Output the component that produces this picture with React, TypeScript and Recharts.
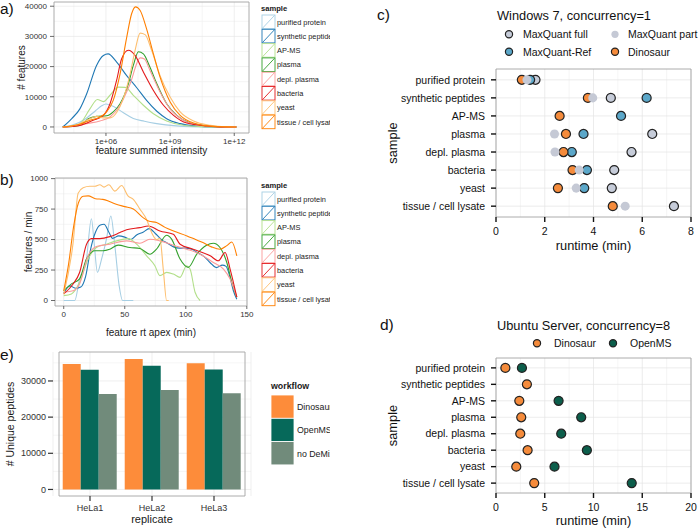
import React from "react";
import {
  LineChart,
  Line,
  XAxis,
  YAxis,
  CartesianGrid,
  ReferenceArea,
  ScatterChart,
  Scatter,
  ZAxis,
  BarChart,
  Bar,
} from "recharts";

const FONT = "'Liberation Sans', Arial, Helvetica, sans-serif";

// shared sample names / colours (panels a, b, c, d)
const samples = [
  "purified protein",
  "synthetic peptides",
  "AP-MS",
  "plasma",
  "depl. plasma",
  "bacteria",
  "yeast",
  "tissue / cell lysate",
];
const sampleColors = ["#a6cee3", "#1f78b4", "#b2df8a", "#33a02c", "#fb9a99", "#e31a1c", "#fdbf6f", "#ff7f00"];

// a) # features vs log10(feature summed intensity)
const intPurified = [[3.98, 0], [4.5, 800], [5, 2500], [5.5, 5300], [5.8, 7000], [6.0, 7600], [6.4, 6600], [6.8, 4800], [7.28, 2800], [7.8, 1900], [8.3, 1200], [8.8, 700], [9.3, 350], [10, 100], [11, 0], [12.1, 0]];
const intSynthetic = [[3.98, 0], [4.4, 2800], [4.78, 6000], [5.1, 11000], [5.56, 20400], [5.88, 23700], [6.1, 24200], [6.5, 21500], [6.97, 17000], [7.44, 13000], [7.9, 8800], [8.38, 5200], [8.84, 2750], [9.47, 1100], [10.2, 300], [11, 0], [12.1, 0]];
const intApms = [[3.98, 0], [4.4, 300], [4.78, 1100], [5.25, 6000], [5.6, 9100], [5.88, 8400], [6.19, 10500], [6.58, 13200], [6.9, 13100], [7.28, 10500], [7.75, 7200], [8.22, 4400], [8.84, 2000], [9.63, 550], [10.5, 100], [11.2, 0], [12.1, 0]];
const intPlasma = [[3.98, 0], [4.78, 500], [5.17, 2700], [5.56, 3500], [6.03, 3700], [6.34, 5000], [6.66, 7700], [7.05, 14300], [7.28, 20400], [7.52, 24900], [7.75, 24200], [8.06, 19800], [8.38, 14300], [8.84, 7700], [9.31, 3850], [9.94, 1300], [10.72, 400], [11.5, 50], [12.1, 0]];
const intDepl = [[3.98, 0], [4.6, 400], [5.09, 1100], [5.72, 2000], [6.19, 3300], [6.66, 7200], [7.13, 14300], [7.6, 22900], [7.8, 22500], [8.06, 18700], [8.53, 11600], [9.0, 6000], [9.63, 2200], [10.4, 550], [11.2, 50], [12.1, 0]];
const intBacteria = [[3.98, 0], [4.78, 500], [5.4, 2200], [5.88, 3850], [6.19, 7700], [6.5, 15500], [6.73, 22500], [7.05, 25400], [7.36, 23700], [7.75, 18200], [8.22, 12100], [8.69, 7200], [9.16, 3850], [9.78, 1300], [10.72, 330], [11.5, 0], [12.1, 0]];
const intYeast = [[3.98, 0], [4.78, 1100], [5.25, 2750], [5.56, 3500], [5.88, 3000], [6.19, 3000], [6.5, 4800], [6.81, 9400], [7.13, 17600], [7.36, 25300], [7.6, 31100], [7.83, 30600], [8.14, 25300], [8.53, 17000], [9.0, 9900], [9.47, 5000], [10.1, 2000], [10.88, 550], [11.6, 50], [12.1, 0]];
const intTissue = [[3.98, 0], [4.78, 900], [5.25, 2200], [5.72, 3300], [6.03, 5000], [6.34, 8800], [6.66, 17600], [6.97, 29700], [7.2, 37500], [7.38, 39800], [7.6, 38600], [7.9, 32500], [8.22, 24200], [8.53, 16500], [9.0, 8300], [9.47, 3850], [10.1, 1300], [11.03, 200], [12.1, 0]];
const intensitySeries = [intPurified, intSynthetic, intApms, intPlasma, intDepl, intBacteria, intYeast, intTissue];
const intensityTicks = [6, 9, 12];
const intensityMinor = [4.5, 7.5, 10.5];
const featureTicks = [0, 10000, 20000, 30000, 40000];
const featureMinor = [5000, 15000, 25000, 35000];

// b) features / min vs retention time apex (min)
const rtPurified = [[0, 0], [9, 0], [13, 177], [18.6, 340], [22.7, 671], [24.9, 475], [27.6, 231], [31, 340], [35, 503], [38.6, 693], [41.9, 448], [45.4, 122], [48.2, 0], [57, 0]];
const rtSynthetic = [[0, 60], [5, 120], [10, 100], [14, 110], [18, 200], [22, 420], [26, 560], [30, 620], [33, 625], [37, 560], [40, 510], [45, 530], [50, 520], [55, 500], [60, 540], [65, 560], [70, 590], [75, 550], [80, 500], [85, 470], [90, 440], [95, 430], [100, 430], [105, 420], [110, 390], [115, 360], [120, 310], [125, 270], [130, 290], [133, 280], [136, 200], [139, 80], [141.8, 10]];
const rtApms = [[0, 40], [6.3, 54], [13, 150], [20, 340], [26.8, 435], [35, 462], [43.3, 489], [52.8, 508], [59.7, 462], [67.9, 367], [74.7, 285], [78.8, 204], [84.3, 231], [89.8, 217], [95.3, 190], [100.7, 285], [103.5, 258], [107.6, 68], [111.7, 0]];
const rtPlasma = [[0, 80], [6.3, 136], [13, 177], [18.6, 340], [25.5, 408], [32.3, 408], [37.8, 421], [44.6, 454], [54.2, 435], [62.4, 427], [70.6, 380], [76, 421], [84.3, 535], [88.4, 503], [95.3, 340], [102, 272], [109, 380], [117, 454], [122.6, 470], [128, 435], [133.6, 312], [137.7, 150], [141.8, 27]];
const rtDepl = [[0, 68], [7.7, 80], [13, 136], [20, 367], [26.8, 443], [37.8, 462], [51.5, 489], [62.4, 470], [70.6, 503], [78.8, 489], [89.8, 454], [100.7, 421], [111.7, 380], [122.6, 312], [130.9, 258], [136.3, 177], [141.8, 27]];
const rtBacteria = [[0, 54], [7.7, 136], [13, 230], [18.6, 460], [22.7, 508], [29.6, 508], [37.8, 524], [46, 557], [51.5, 580], [62.4, 598], [69.3, 611], [78.8, 570], [89.8, 543], [95.3, 462], [106, 421], [120, 367], [126.7, 326], [132.2, 394], [136.3, 258], [141.8, 27]];
const rtYeast = [[0, 50], [7.7, 475], [11.8, 880], [15.9, 925], [21.4, 937], [25.5, 937], [29.6, 950], [33, 930], [37, 950], [41.9, 897], [47.4, 943], [52.8, 856], [57, 830], [62.4, 750], [67.9, 665], [72, 557], [76, 500], [78.8, 510], [81.6, 250], [84.3, 0], [86, 0]];
const rtTissue = [[0, 80], [4, 300], [8, 600], [12, 800], [16, 855], [20, 858], [26, 835], [32, 830], [38, 810], [43, 790], [50, 770], [57, 750], [65, 680], [70, 650], [76, 640], [83, 600], [90, 570], [101, 530], [108, 500], [114, 475], [121, 440], [128, 420], [133.6, 450], [137.7, 480], [141.8, 367]];
const rtSeries = [rtPurified, rtSynthetic, rtApms, rtPlasma, rtDepl, rtBacteria, rtYeast, rtTissue];
const rtTicks = [0, 50, 100, 150];
const rtMinor = [25, 75, 125];
const rateTicks = [0, 250, 500, 750, 1000];
const rateMinor = [125, 375, 625, 875];

// c) runtime (min), Windows 7, concurrency = 1 (order follows `samples`)
const winMaxQuantFull = [1.62, 4.71, null, 6.41, 5.56, 4.85, 4.75, 7.3];
const winMaxQuantRef = [1.4, 6.18, 5.13, 3.59, 3.11, 3.73, 3.62, null];
const winDinosaur = [1.06, 3.77, 2.61, 2.87, 2.77, 3.14, 2.54, 4.79];
const winMaxQuantPart = [1.27, 3.97, null, 2.4, 2.42, 3.41, 3.29, 5.3];
const winTicks = [0, 2, 4, 6, 8];
const winMinor = [1, 3, 5, 7];

// d) runtime (min), Ubuntu Server, concurrency = 8
const ubuDinosaur = [0.96, 3.17, 2.39, 2.59, 2.49, 3.24, 2.08, 3.92];
const ubuOpenMS = [2.66, null, 6.42, 8.74, 6.69, 9.32, 6.0, 13.92];
const ubuTicks = [0, 5, 10, 15, 20];
const ubuMinor = [2.5, 7.5, 12.5, 17.5];

// e) unique peptides per replicate
const replicates = ["HeLa1", "HeLa2", "HeLa3"];
const dinosaurDemix = [34700, 36100, 34900];
const openmsDemix = [33100, 34200, 33200];
const noDemix = [26400, 27500, 26600];
const peptideTicks = [0, 10000, 20000, 30000];
const peptideMinor = [5000, 15000, 25000, 35000];

const sampleIdx = samples.map((_, i) => i);
const toXY = (pts: number[][]) => pts.map(([x, y]) => ({ x, y }));
const toRows = (vals: (number | null)[]) =>
  vals.map((v, i) => (v == null ? null : { x: v, y: i })).filter(Boolean) as { x: number; y: number }[];
const peptideRows = replicates.map((r, i) => ({
  replicate: r,
  dino: dinosaurDemix[i],
  openms: openmsDemix[i],
  none: noDemix[i],
}));

const ORANGE = "#f58b3b";
const GRID_MAJOR = "#e4e4e4";
const GRID_MINOR = "#f3f3f3";
const BORDER = "#a3a3a3";

function SampleLegend({ top }: { top: number }) {
  return (
    <svg width={72} height={140} style={{ position: "absolute", left: 258, top }}>
      <text x={3} y={11} fontSize={7.6} fontWeight="bold" fill="#1a1a1a">sample</text>
      {samples.map((s, i) => {
        const y0 = 15 + i * 14.3;
        return (
          <g key={s}>
            <rect x={4} y={y0} width={13} height={13.6} fill="#fff" stroke={sampleColors[i]} strokeWidth={0.9} />
            <line x1={4.5} y1={y0 + 13.2} x2={16.5} y2={y0 + 0.4} stroke={sampleColors[i]} strokeWidth={0.9} />
            <text x={19} y={y0 + 9.5} fontSize={7.4} fill="#1a1a1a">{s}</text>
          </g>
        );
      })}
    </svg>
  );
}

const smallTick = { fontSize: 8, fill: "#333" };

function PanelA() {
  return (
    <div style={{ position: "absolute", left: 0, top: 0, width: 330, height: 160, overflow: "hidden" }}>
      <LineChart width={330} height={160} margin={{ top: 2, right: 81, bottom: 0, left: 14 }}>
        <CartesianGrid stroke={GRID_MINOR} strokeWidth={0.8} horizontalValues={featureMinor} verticalValues={intensityMinor} />
        <CartesianGrid stroke={GRID_MAJOR} strokeWidth={0.6} horizontalValues={featureTicks} verticalValues={intensityTicks} />
        <XAxis
          type="number"
          dataKey="x"
          domain={[3.57, 12.69]}
          ticks={intensityTicks}
          interval={0}
          allowDataOverflow
          tickFormatter={(v: number) => "1e+" + String(v).padStart(2, "0")}
          height={27}
          axisLine={false}
          tickSize={3}
          tickMargin={2}
          tickLine={{ stroke: "#444", strokeWidth: 0.8 }}
          tick={smallTick}
          label={{ value: "feature summed intensity", position: "insideBottom", offset: 6, fontSize: 10, fill: "#1a1a1a" }}
        />
        <YAxis
          type="number"
          domain={[-2000, 41400]}
          ticks={featureTicks}
          interval={0}
          allowDataOverflow
          width={40}
          axisLine={false}
          tickSize={4}
          tickMargin={3}
          tickLine={{ stroke: "#444", strokeWidth: 0.8 }}
          tick={smallTick}
          label={{ value: "# features", angle: -90, position: "insideLeft", offset: 7, fontSize: 10, fill: "#1a1a1a", style: { textAnchor: "middle" } }}
        />
        {intensitySeries.map((pts, i) => (
          <Line
            key={samples[i]}
            data={toXY(pts)}
            dataKey="y"
            type="monotone"
            stroke={sampleColors[i]}
            strokeWidth={1.1}
            dot={false}
            isAnimationActive={false}
          />
        ))}
        <ReferenceArea y1={-2000} y2={41400} fill="none" stroke={BORDER} strokeWidth={0.9} ifOverflow="visible" />
      </LineChart>
      <SampleLegend top={0} />
    </div>
  );
}

function PanelB() {
  return (
    <div style={{ position: "absolute", left: 0, top: 160, width: 330, height: 182, overflow: "hidden" }}>
      <LineChart width={330} height={182} margin={{ top: 18, right: 83, bottom: 0, left: 15 }}>
        <CartesianGrid stroke={GRID_MINOR} strokeWidth={0.8} horizontalValues={rateMinor} verticalValues={rtMinor} />
        <CartesianGrid stroke={GRID_MAJOR} strokeWidth={0.6} horizontalValues={rateTicks} verticalValues={rtTicks} />
        <XAxis
          type="number"
          dataKey="x"
          domain={[-7.15, 150.15]}
          ticks={rtTicks}
          interval={0}
          allowDataOverflow
          height={36}
          axisLine={false}
          tickSize={3}
          tickMargin={2}
          tickLine={{ stroke: "#444", strokeWidth: 0.8 }}
          tick={smallTick}
          label={{ value: "feature rt apex (min)", position: "insideBottom", offset: 6, fontSize: 10, fill: "#1a1a1a" }}
        />
        <YAxis
          type="number"
          domain={[-45, 1005]}
          ticks={rateTicks}
          interval={0}
          allowDataOverflow
          width={40}
          axisLine={false}
          tickSize={4}
          tickMargin={3}
          tickLine={{ stroke: "#444", strokeWidth: 0.8 }}
          tick={smallTick}
          label={{ value: "features / min", angle: -90, position: "insideLeft", offset: 13, fontSize: 10, fill: "#1a1a1a", style: { textAnchor: "middle" } }}
        />
        {rtSeries.map((pts, i) => (
          <Line
            key={samples[i]}
            data={toXY(pts)}
            dataKey="y"
            type="monotone"
            stroke={sampleColors[i]}
            strokeWidth={1.1}
            dot={false}
            isAnimationActive={false}
          />
        ))}
        <ReferenceArea y1={-45} y2={1005} fill="none" stroke={BORDER} strokeWidth={0.9} ifOverflow="visible" />
      </LineChart>
      <SampleLegend top={17} />
    </div>
  );
}

const bigTick = { fontSize: 10.5, fill: "#111" };
const blackTick = { stroke: "#111", strokeWidth: 1.4 };

function RuntimeAxes({ domain, ticks }: { domain: number[]; ticks: number[] }) {
  return null;
}

function PanelC() {
  return (
    <div style={{ position: "absolute", left: 330, top: 0, width: 368, height: 260 }}>
      <ScatterChart width={368} height={260} margin={{ top: 69, right: 7, bottom: 0, left: 0 }}>
        <CartesianGrid stroke={GRID_MINOR} strokeWidth={0.8} horizontal={false} verticalValues={winMinor} />
        <CartesianGrid stroke={GRID_MAJOR} strokeWidth={0.7} horizontalValues={sampleIdx} verticalValues={winTicks} />
        <XAxis
          type="number"
          dataKey="x"
          domain={[0, 8]}
          ticks={winTicks}
          interval={0}
          allowDataOverflow
          height={43}
          axisLine={false}
          tickSize={5}
          tickMargin={6}
          tickLine={blackTick}
          tick={bigTick}
          label={{ value: "runtime (min)", position: "insideBottom", offset: 10, fontSize: 12.8, fill: "#111" }}
        />
        <YAxis
          type="number"
          dataKey="y"
          domain={[-0.6, 7.6]}
          reversed
          ticks={sampleIdx}
          interval={0}
          tickFormatter={(v: number) => samples[v]}
          width={166}
          axisLine={false}
          tickSize={5}
          tickMargin={6}
          tickLine={blackTick}
          tick={bigTick}
          label={{ value: "sample", angle: -90, position: "insideLeft", offset: 62, fontSize: 12.8, fill: "#111", style: { textAnchor: "middle" } }}
        />
        <ZAxis range={[40, 40]} />
        <Scatter data={toRows(winMaxQuantFull)} fill="#c6ccd9" stroke="#222" strokeWidth={1.2} isAnimationActive={false} />
        <Scatter data={toRows(winMaxQuantRef)} fill="#5ba7c9" stroke="#222" strokeWidth={1.2} isAnimationActive={false} />
        <Scatter data={toRows(winDinosaur)} fill={ORANGE} stroke="#222" strokeWidth={1.2} isAnimationActive={false} />
        <Scatter data={toRows(winMaxQuantPart)} fill="#c5c9d5" isAnimationActive={false} />
        <ReferenceArea y1={-0.6} y2={7.6} fill="none" stroke={BORDER} strokeWidth={0.9} ifOverflow="visible" />
      </ScatterChart>
    </div>
  );
}

function PanelD() {
  return (
    <div style={{ position: "absolute", left: 330, top: 300, width: 368, height: 230 }}>
      <ScatterChart width={368} height={230} margin={{ top: 58, right: 7, bottom: 0, left: 0 }}>
        <CartesianGrid stroke={GRID_MINOR} strokeWidth={0.8} horizontal={false} verticalValues={ubuMinor} />
        <CartesianGrid stroke={GRID_MAJOR} strokeWidth={0.7} horizontalValues={sampleIdx} verticalValues={ubuTicks} />
        <XAxis
          type="number"
          dataKey="x"
          domain={[0, 20]}
          ticks={ubuTicks}
          interval={0}
          allowDataOverflow
          height={37}
          axisLine={false}
          tickSize={5}
          tickMargin={6}
          tickLine={blackTick}
          tick={bigTick}
          label={{ value: "runtime (min)", position: "insideBottom", offset: 5, fontSize: 12.8, fill: "#111" }}
        />
        <YAxis
          type="number"
          dataKey="y"
          domain={[-0.6, 7.6]}
          reversed
          ticks={sampleIdx}
          interval={0}
          tickFormatter={(v: number) => samples[v]}
          width={166}
          axisLine={false}
          tickSize={5}
          tickMargin={6}
          tickLine={blackTick}
          tick={bigTick}
          label={{ value: "sample", angle: -90, position: "insideLeft", offset: 62, fontSize: 12.8, fill: "#111", style: { textAnchor: "middle" } }}
        />
        <ZAxis range={[40, 40]} />
        <Scatter data={toRows(ubuDinosaur)} fill={ORANGE} stroke="#222" strokeWidth={1.2} isAnimationActive={false} />
        <Scatter data={toRows(ubuOpenMS)} fill="#0c5e4b" stroke="#222" strokeWidth={1.2} isAnimationActive={false} />
        <ReferenceArea y1={-0.6} y2={7.6} fill="none" stroke={BORDER} strokeWidth={0.9} ifOverflow="visible" />
      </ScatterChart>
    </div>
  );
}

const workflowNames = ["Dinosaur DeMix", "OpenMS DeMix", "no DeMix"];
const workflowColors = ["#fd8c3a", "#06695a", "#718b7b"];

function PanelE() {
  return (
    <div style={{ position: "absolute", left: 0, top: 320, width: 330, height: 210, overflow: "hidden" }}>
      <BarChart
        width={330}
        height={210}
        data={peptideRows}
        margin={{ top: 32, right: 79, bottom: 0, left: 0 }}
        barGap={0}
        barCategoryGap="6%"
      >
        <CartesianGrid stroke={GRID_MINOR} strokeWidth={0.8} vertical={false} horizontalValues={peptideMinor} />
        <CartesianGrid stroke={GRID_MAJOR} strokeWidth={0.6} horizontalValues={peptideTicks} />
        <XAxis
          dataKey="replicate"
          padding={{ left: 6, right: 6 }}
          height={34}
          axisLine={false}
          tickSize={5}
          tickMargin={4}
          tickLine={{ stroke: "#333", strokeWidth: 1.2 }}
          tick={{ fontSize: 9, fill: "#333" }}
          label={{ value: "replicate", position: "insideBottom", offset: 7, fontSize: 11, fill: "#1a1a1a" }}
        />
        <YAxis
          type="number"
          domain={[-1810, 38010]}
          ticks={peptideTicks}
          interval={0}
          allowDataOverflow
          width={53}
          axisLine={false}
          tickSize={5}
          tickMargin={2}
          tickLine={{ stroke: "#333", strokeWidth: 1.2 }}
          tick={{ fontSize: 9, fill: "#333" }}
          label={{ value: "# Unique peptides", angle: -90, position: "insideLeft", offset: 10, fontSize: 10.5, fill: "#1a1a1a", style: { textAnchor: "middle" } }}
        />
        <Bar dataKey="dino" fill={workflowColors[0]} isAnimationActive={false} />
        <Bar dataKey="openms" fill={workflowColors[1]} isAnimationActive={false} />
        <Bar dataKey="none" fill={workflowColors[2]} isAnimationActive={false} />
        <ReferenceArea y1={-1810} y2={38010} fill="none" stroke={BORDER} strokeWidth={0.9} ifOverflow="visible" />
      </BarChart>
      <svg width={62} height={100} style={{ position: "absolute", left: 268, top: 60 }}>
        <text x={3} y={9} fontSize={8.8} fontWeight="bold" fill="#1a1a1a">workflow</text>
        {workflowNames.map((w, i) => (
          <g key={w}>
            <rect x={3} y={15 + i * 23.3} width={23} height={23.3} fill={workflowColors[i]} stroke="#fff" strokeWidth={0.8} />
            <text x={29} y={15 + i * 23.3 + 15} fontSize={8.8} fill="#1a1a1a">{w}</text>
          </g>
        ))}
      </svg>
    </div>
  );
}

function Overlay() {
  const dot = (cx: number, cy: number, fill: string, stroke?: string) => (
    <circle cx={cx} cy={cy} r={3.6} fill={fill} stroke={stroke || "none"} strokeWidth={1.2} />
  );
  return (
    <svg width={698} height={530} style={{ position: "absolute", left: 0, top: 0, pointerEvents: "none" }}>
      <text x={0} y={14} fontSize={15.5} fill="#111">a)</text>
      <text x={0} y={185} fontSize={15.5} fill="#111">b)</text>
      <text x={377} y={20} fontSize={15.5} fill="#111">c)</text>
      <text x={380} y={330} fontSize={15.5} fill="#111">d)</text>
      <text x={0} y={360} fontSize={15.5} fill="#111">e)</text>

      <text x={497} y={20} fontSize={12.8} fill="#111">Windows 7, concurrency=1</text>
      {dot(509, 34.3, "#c6ccd9", "#222")}
      <text x={523} y={38} fontSize={10.5} fill="#111">MaxQuant full</text>
      {dot(615, 34.3, "#c5c9d5")}
      <text x={628} y={38} fontSize={10.5} fill="#111">MaxQuant part</text>
      {dot(509, 51.7, "#5ba7c9", "#222")}
      <text x={523} y={55.5} fontSize={10.5} fill="#111">MaxQuant-Ref</text>
      {dot(615, 51.7, ORANGE, "#222")}
      <text x={628} y={55.5} fontSize={10.5} fill="#111">Dinosaur</text>

      <text x={497} y={330} fontSize={12.8} fill="#111">Ubuntu Server, concurrency=8</text>
      {dot(537, 343.3, ORANGE, "#222")}
      <text x={554} y={347} fontSize={10.5} fill="#111">Dinosaur</text>
      {dot(613, 343.3, "#0c5e4b", "#222")}
      <text x={630} y={347} fontSize={10.5} fill="#111">OpenMS</text>
    </svg>
  );
}

export default function App() {
  return (
    <div
      style={{
        position: "absolute",
        left: 0,
        top: 0,
        width: 698,
        height: 530,
        background: "#fff",
        overflow: "hidden",
        fontFamily: FONT,
      }}
    >
      <PanelA />
      <PanelB />
      <PanelE />
      <PanelC />
      <PanelD />
      <Overlay />
    </div>
  );
}
